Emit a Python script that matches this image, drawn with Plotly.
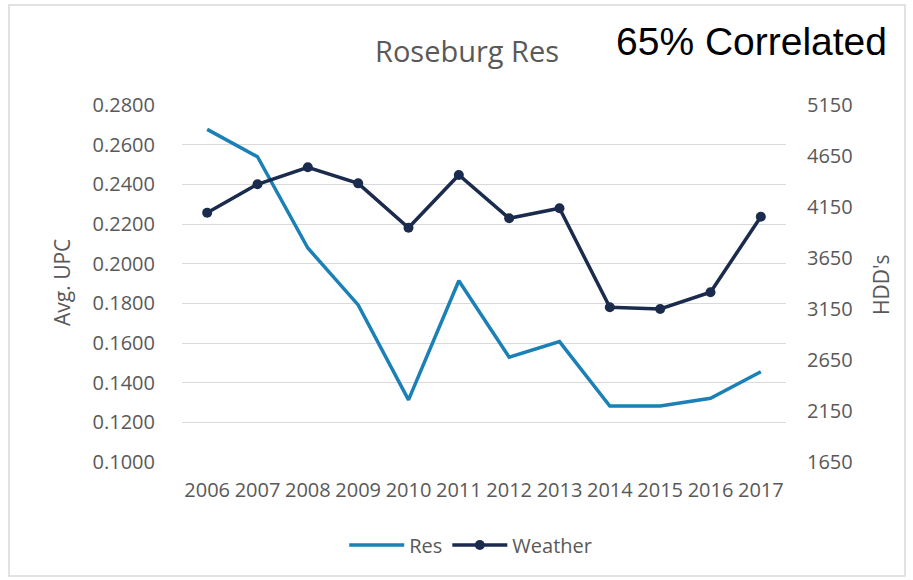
import plotly.graph_objects as go

years = ["2006", "2007", "2008", "2009", "2010", "2011", "2012", "2013", "2014", "2015", "2016", "2017"]
res_upc = [0.2677, 0.2539, 0.2079, 0.1792, 0.1313, 0.1914, 0.1528, 0.1607, 0.1282, 0.1282, 0.1321, 0.1455]
weather_hdd = [4094, 4373, 4539, 4382, 3947, 4464, 4039, 4137, 3167, 3150, 3314, 4055]
left_ticks = [0.10, 0.12, 0.14, 0.16, 0.18, 0.20, 0.22, 0.24, 0.26, 0.28]
right_ticks = [1650, 2150, 2650, 3150, 3650, 4150, 4650, 5150]

GRAY = "#595959"
FONT = "Open Sans"

fig = go.Figure()
fig.add_trace(go.Scatter(x=years, y=res_upc, name="Res", mode="lines",
                         line=dict(color="#1a80b6", width=3.5)))
fig.add_trace(go.Scatter(x=years, y=weather_hdd, name="Weather", mode="lines+markers",
                         yaxis="y2",
                         line=dict(color="#1a2b4d", width=3.5),
                         marker=dict(size=10, color="#1a2b4d")))

fig.update_layout(
    width=913, height=580,
    margin=dict(l=182, r=127, t=105, b=118),
    paper_bgcolor="white", plot_bgcolor="white",
    font=dict(family=FONT, color=GRAY, size=20),
    showlegend=True,
    legend=dict(orientation="h", x=0.478, xanchor="center", y=-0.2325, yanchor="middle",
                font=dict(size=20, color=GRAY, family=FONT), itemwidth=55,
                bgcolor="rgba(0,0,0,0)"),
    xaxis=dict(type="category", range=[-0.5, 11.5], showgrid=False, zeroline=False,
               showline=False, ticks="", tickfont=dict(size=20, color=GRAY),
               ticklabelstandoff=14),
    yaxis=dict(range=[0.10, 0.28], tickvals=left_ticks, tickformat=".4f",
               showgrid=True, gridcolor="#d9d9d9", gridwidth=1, zeroline=False,
               showline=False, ticks="", tickfont=dict(size=20, color=GRAY),
               ticklabelstandoff=26),
    yaxis2=dict(range=[1650, 5150], tickvals=right_ticks, overlaying="y", side="right",
                showgrid=False, zeroline=False, showline=False, ticks="",
                tickfont=dict(size=20, color=GRAY), ticklabelstandoff=20),
    annotations=[
        dict(text="Roseburg Res", xref="paper", yref="paper", x=0.472, y=(462 - 50) / 357,
             xanchor="center", yanchor="middle", showarrow=False,
             font=dict(size=29, color=GRAY, family=FONT)),
        dict(text="65% Correlated", xref="paper", yref="paper", x=(751 - 182) / 604,
             y=(462 - 42) / 357, xanchor="center", yanchor="middle", showarrow=False,
             font=dict(size=39, color="black", family="Liberation Sans")),
        dict(text="Avg. UPC", xref="paper", yref="paper", x=(62 - 182) / 604, y=(462 - 283) / 357,
             xanchor="center", yanchor="middle", textangle=-90, showarrow=False,
             font=dict(size=21, color=GRAY, family=FONT)),
        dict(text="HDD's", xref="paper", yref="paper", x=(881 - 182) / 604, y=(462 - 285) / 357,
             xanchor="center", yanchor="middle", textangle=-90, showarrow=False,
             font=dict(size=21, color=GRAY, family=FONT)),
    ],
    shapes=[
        dict(type="rect", xref="paper", yref="paper",
             x0=(9 - 182) / 604, x1=(905 - 182) / 604,
             y0=(462 - 576) / 357, y1=(462 - 5) / 357,
             line=dict(color="#d9d9d9", width=1.5), fillcolor="rgba(0,0,0,0)", layer="below"),
    ],
)

fig.write_html("out.html", config={"displayModeBar": False},
               post_script="document.body.style.margin='0';document.body.style.overflow='hidden';")
